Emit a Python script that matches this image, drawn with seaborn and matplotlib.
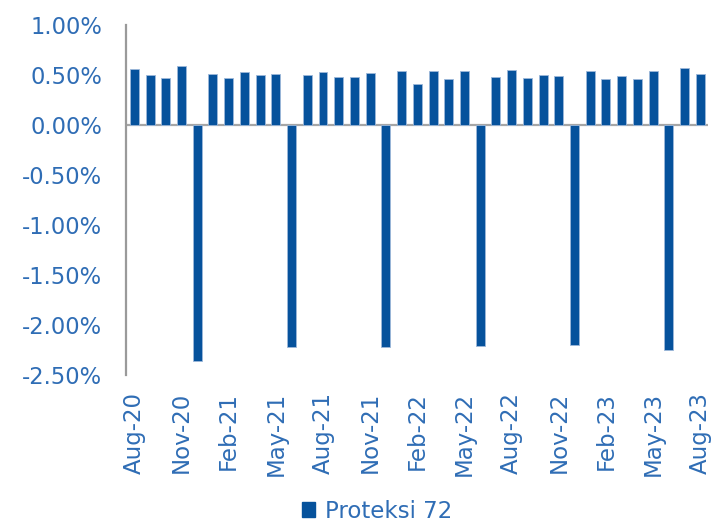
import matplotlib
matplotlib.use("Agg")
import matplotlib.pyplot as plt
import seaborn as sns
import pandas as pd
from matplotlib.patches import Patch
from matplotlib.ticker import FuncFormatter

months = ["Aug-20", "Sep-20", "Oct-20", "Nov-20", "Dec-20", "Jan-21", "Feb-21", "Mar-21",
          "Apr-21", "May-21", "Jun-21", "Jul-21", "Aug-21", "Sep-21", "Oct-21", "Nov-21",
          "Dec-21", "Jan-22", "Feb-22", "Mar-22", "Apr-22", "May-22", "Jun-22", "Jul-22",
          "Aug-22", "Sep-22", "Oct-22", "Nov-22", "Dec-22", "Jan-23", "Feb-23", "Mar-23",
          "Apr-23", "May-23", "Jun-23", "Jul-23", "Aug-23"]
returns = [0.563, 0.500, 0.470, 0.593, -2.36, 0.507, 0.470, 0.527, 0.497, 0.510,
           -2.22, 0.500, 0.530, 0.477, 0.477, 0.520, -2.22, 0.537, 0.413, 0.540,
           0.457, 0.540, -2.21, 0.480, 0.547, 0.470, 0.503, 0.490, -2.20, 0.537,
           0.463, 0.490, 0.463, 0.540, -2.25, 0.567, 0.510]
series_name = "Proteksi 72"

df = pd.DataFrame({"month": months, "ret": returns})

bar_color = "#06529C"
text_color = "#2F6DB5"
font = ["DejaVu Sans"]

sns.set_style("white")
plt.rcParams["font.family"] = font

fig = plt.figure(figsize=(7.11, 5.30), dpi=100)
ax = fig.add_axes([0.177, 0.292, 0.819, 0.661])

sns.barplot(data=df, x="month", y="ret", color=bar_color, width=0.57,
            saturation=1, ax=ax, edgecolor="#9DB8DA", linewidth=0.6)

ax.set_xlim(-0.54, len(months) - 0.5)
ax.set_ylim(-2.5, 1.0)
ax.set_yticks([1.0, 0.5, 0.0, -0.5, -1.0, -1.5, -2.0, -2.5])
ax.yaxis.set_major_formatter(FuncFormatter(lambda v, p: f"{v:.2f}%"))
ax.set_xticks(range(0, len(months), 3))
ax.set_xticklabels(months[::3], rotation=90, va="top", ha="center")
ax.set_xlabel("")
ax.set_ylabel("")

for s in ["top", "right", "bottom"]:
    ax.spines[s].set_visible(False)
ax.spines["left"].set_color("#9A9A9A")
ax.spines["left"].set_linewidth(1.6)
ax.axhline(0, color="#A6A6A6", linewidth=1.6, zorder=0.5)

ax.tick_params(axis="y", length=0, pad=17, labelsize=16.3, labelcolor=text_color)
ax.tick_params(axis="x", length=0, pad=12, labelsize=16.5, labelcolor=text_color)

handles = [Patch(facecolor=bar_color, edgecolor=bar_color, label=series_name)]
fig.legend(handles=handles, loc="lower center", bbox_to_anchor=(0.53, -0.012),
           frameon=False, fontsize=16.5, labelcolor=text_color, borderpad=0.1,
           handlelength=0.6, handleheight=0.6, handletextpad=0.4)

fig.savefig("out.png", dpi=100)
